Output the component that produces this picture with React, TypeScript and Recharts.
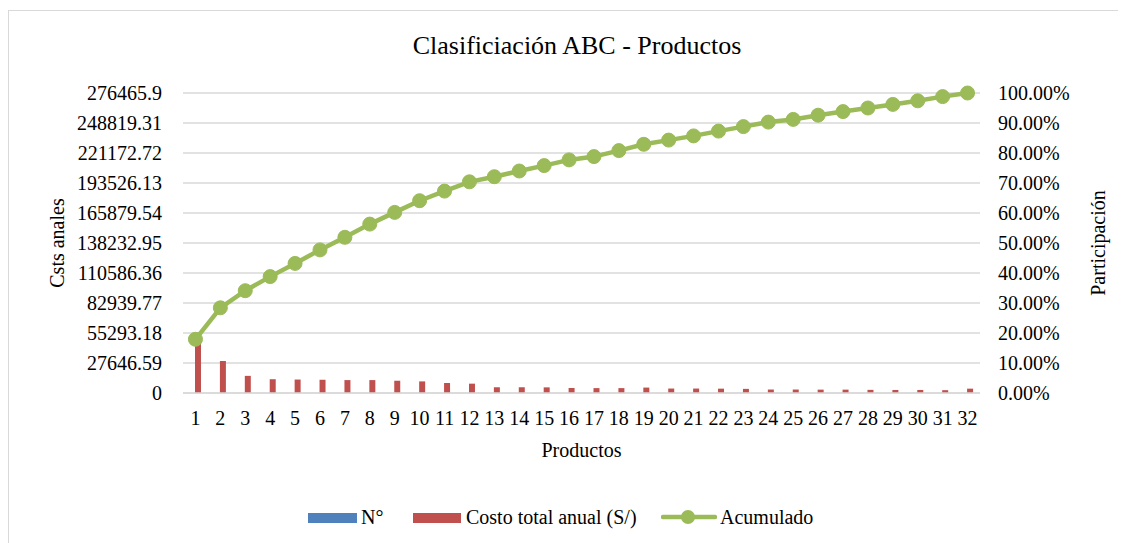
import React from "react";
import { ComposedChart, Bar, Line, XAxis, YAxis, CartesianGrid } from "recharts";

// productos 1..32
const productos = Array.from({ length: 32 }, (_, i) => String(i + 1));

// N° column (tiny against the cost scale)
const numeros = [
  1, 2, 3, 4, 5, 6, 7, 8, 9, 10, 11, 12, 13, 14, 15, 16,
  17, 18, 19, 20, 21, 22, 23, 24, 25, 26, 27, 28, 29, 30, 31, 32,
];

// Costo total anual (S/)
const costos = [
  49500, 29500, 15800, 12700, 12400, 12200, 11900, 11900, 11300, 10700, 9200, 8600,
  5300, 5300, 5200, 4600, 4500, 4500, 5000, 4100, 4100, 4000, 3800, 3200,
  3200, 3100, 3100, 2900, 2800, 2800, 2600, 4000,
];

// Acumulado (%)
const acumulado = [
  17.9, 28.4, 34.1, 38.8, 43.2, 47.7, 51.9, 56.3, 60.2, 64.1, 67.3, 70.4,
  72.1, 74.0, 75.8, 77.7, 78.8, 80.8, 82.9, 84.3, 85.7, 87.3, 88.8, 90.3,
  91.2, 92.6, 93.8, 95.0, 96.2, 97.4, 98.8, 100,
];

const leftTicks = [
  0, 27646.59, 55293.18, 82939.77, 110586.36, 138232.95, 165879.54,
  193526.13, 221172.72, 248819.31, 276465.9,
];
const rightTicks = [0, 10, 20, 30, 40, 50, 60, 70, 80, 90, 100];

const data = productos.map((p, i) => ({
  producto: p,
  numero: numeros[i],
  costo: costos[i],
  acumulado: acumulado[i],
}));

const BLUE = "#4f81bd";
const RED = "#c0504d";
const GREEN = "#9bbb59";
const GRID = "#d9d9d9";
const FONT = "'Liberation Serif', 'Times New Roman', serif";

const tickStyle = { fontSize: 20, fill: "#000", fontFamily: FONT };

export default function App() {
  return (
    <div
      style={{
        position: "relative",
        width: 1117,
        height: 532,
        marginTop: 2,
        borderLeft: `1px solid ${GRID}`,
        borderTop: `1px solid ${GRID}`,
        fontFamily: FONT,
        color: "#000",
        background: "#fff",
        overflow: "hidden",
      }}
    >
      <div
        style={{
          position: "absolute",
          left: 0,
          width: 1117,
          boxSizing: "border-box",
          paddingLeft: 19,
          top: 20,
          textAlign: "center",
          fontSize: 26,
          lineHeight: "30px",
        }}
      >
        Clasificiación ABC - Productos
      </div>

      <ComposedChart
        width={1117}
        height={532}
        data={data}
        margin={{ top: 82, right: 0, bottom: 0, left: 0 }}
        barGap={0}
        barCategoryGap={0}
      >
        <CartesianGrid yAxisId="left" vertical={false} stroke={GRID} strokeWidth={1.5} />
        <XAxis
          dataKey="producto"
          height={150}
          interval={0}
          tickLine={false}
          tickSize={0}
          tickMargin={18}
          axisLine={{ stroke: GRID, strokeWidth: 1.5 }}
          tick={tickStyle}
          label={{
            value: "Productos",
            position: "insideTop",
            offset: 50,
            style: { fontSize: 20, fill: "#000", fontFamily: FONT },
          }}
        />
        <YAxis
          yAxisId="left"
          width={174}
          domain={[0, 276465.9]}
          ticks={leftTicks}
          tickFormatter={(v: number) => String(v)}
          axisLine={false}
          tickLine={false}
          tickSize={0}
          tickMargin={21}
          tick={tickStyle}
          label={{
            value: "Csts anales",
            angle: -90,
            position: "insideLeft",
            offset: 48,
            style: { fontSize: 20, fill: "#000", fontFamily: FONT, textAnchor: "middle" },
          }}
        />
        <YAxis
          yAxisId="right"
          orientation="right"
          width={146}
          domain={[0, 100]}
          ticks={rightTicks}
          tickFormatter={(v: number) => `${v.toFixed(2)}%`}
          axisLine={false}
          tickLine={false}
          tickSize={0}
          tickMargin={18}
          tick={{ ...tickStyle, textAnchor: "start" }}
          label={{
            value: "Participación",
            angle: -90,
            position: "insideRight",
            offset: 28,
            style: { fontSize: 20, fill: "#000", fontFamily: FONT, textAnchor: "middle" },
          }}
        />
        <Bar yAxisId="left" dataKey="numero" fill={BLUE} barSize={6} isAnimationActive={false} />
        <Bar yAxisId="left" dataKey="costo" fill={RED} barSize={6} isAnimationActive={false} />
        <Line
          yAxisId="right"
          dataKey="acumulado"
          stroke={GREEN}
          strokeWidth={4.5}
          dot={{ r: 7, fill: GREEN, stroke: GREEN, strokeWidth: 1 }}
          activeDot={false}
          isAnimationActive={false}
        />
      </ComposedChart>

      {/* legend */}
      <div style={{ position: "absolute", top: 493, left: 0, height: 26, fontSize: 20 }}>
        <div style={{ position: "absolute", left: 299, top: 9, width: 49, height: 10, background: BLUE }} />
        <div style={{ position: "absolute", left: 352, top: 0, whiteSpace: "nowrap", lineHeight: "26px" }}>N°</div>
        <div style={{ position: "absolute", left: 404, top: 9, width: 48, height: 10, background: RED }} />
        <div style={{ position: "absolute", left: 457, top: 0, whiteSpace: "nowrap", lineHeight: "26px" }}>
          Costo total anual (S/)
        </div>
        <svg style={{ position: "absolute", left: 652, top: 0 }} width={56} height={26}>
          <line x1={2} y1={13} x2={54} y2={13} stroke={GREEN} strokeWidth={4.5} strokeLinecap="round" />
          <circle cx={27} cy={13} r={7} fill={GREEN} />
        </svg>
        <div style={{ position: "absolute", left: 711, top: 0, whiteSpace: "nowrap", lineHeight: "26px" }}>Acumulado</div>
      </div>
    </div>
  );
}
